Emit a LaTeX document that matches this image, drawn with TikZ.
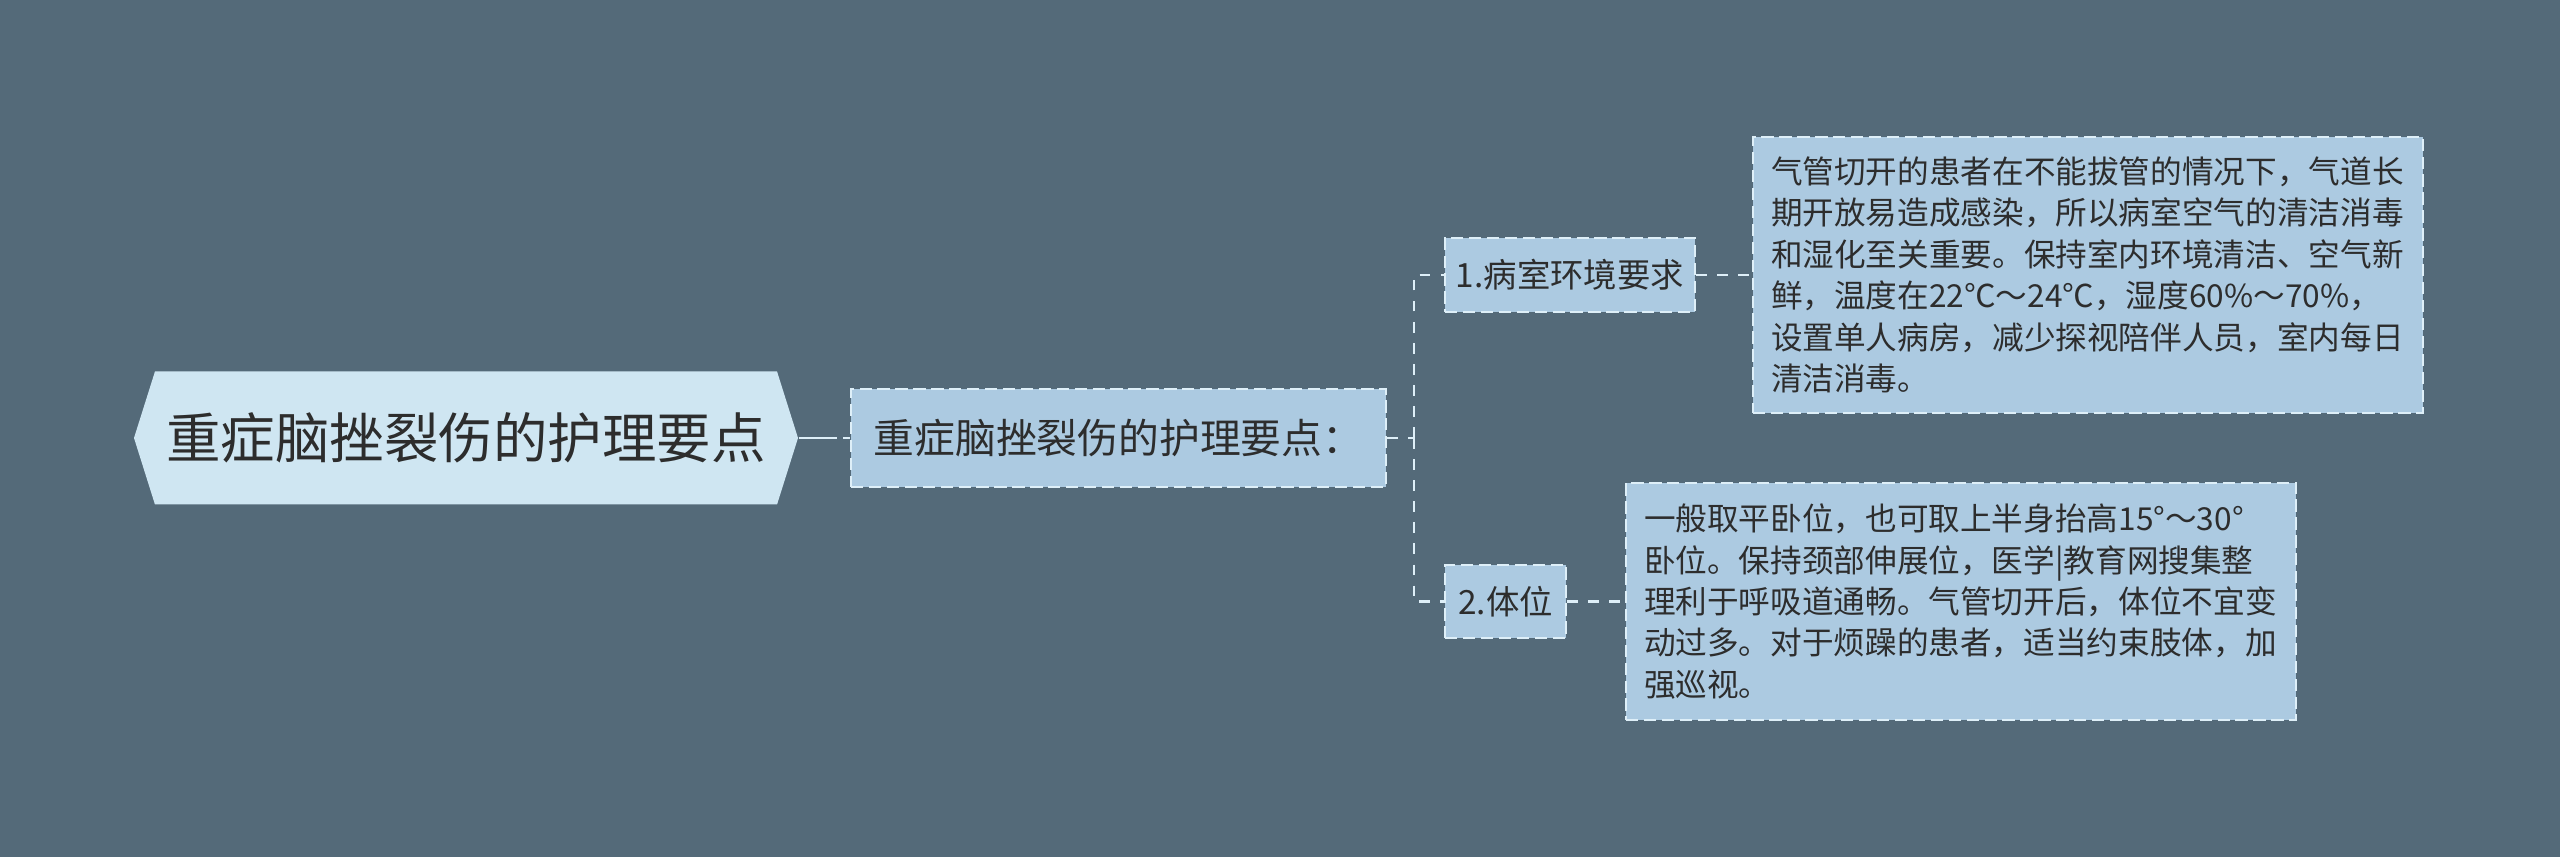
\documentclass[tikz,border=0pt]{standalone}
\usepackage{fontspec}
\setmainfont{Noto Sans CJK SC}
\usetikzlibrary{shapes.symbols}
\definecolor{slate}{RGB}{84,106,121}
\definecolor{rootfill}{RGB}{207,230,242}
\definecolor{leaffill}{RGB}{172,202,225}
\definecolor{edge}{RGB}{222,239,248}
\definecolor{ink}{RGB}{45,45,45}

\begin{document}
\begin{tikzpicture}[
    box/.style={draw=edge, fill=leaffill, line width=0.6pt, dash pattern=on 3.5pt off 1.6pt, text=ink, inner sep=0pt},
    link/.style={draw=edge, line width=0.7pt, dash pattern=on 3pt off 3pt}]
  \fill[slate] (0,0) rectangle (25.6,8.57);
  \useasboundingbox (0,0) rectangle (25.6,8.57);
  % root and main topic
  \node[signal, signal to=west and east, signal pointer angle=145, fill=rootfill, text=ink,
        minimum width=6.64cm, minimum height=1.33cm, inner sep=0pt,
        font=\fontsize{15.5}{18}\selectfont] (root) at (4.66,4.19) {重症脑挫裂伤的护理要点};
  \node[box, minimum width=5.35cm, minimum height=0.98cm, font=\fontsize{11.6}{13}\selectfont]
        (main) at (11.185,4.19) {重症脑挫裂伤的护理要点：};
  % branches
  \node[box, minimum width=2.50cm, minimum height=0.74cm, font=\fontsize{9.5}{11}\selectfont]
        (room) at (15.70,5.82) {1.病室环境要求};
  \node[box, minimum width=1.21cm, minimum height=0.73cm, font=\fontsize{9.5}{11}\selectfont]
        (pose) at (15.055,2.555) {2.体位};
  % leaves
  \node[box, minimum width=6.70cm, minimum height=2.76cm, text width=6.34cm, align=left,
        font=\fontsize{9}{11.8}\selectfont] (roomtxt) at (20.88,5.82)
        {气管切开的患者在不能拔管的情况下，气道长\\
         期开放易造成感染，所以病室空气的清洁消毒\\
         和湿化至关重要。保持室内环境清洁、空气新\\
         鲜，温度在22℃～24℃，湿度60\%～70\%，\\
         设置单人病房，减少探视陪伴人员，室内每日\\
         清洁消毒。};
  \node[box, minimum width=6.70cm, minimum height=2.37cm, text width=6.34cm, align=left,
        font=\fontsize{9}{11.8}\selectfont] (posetxt) at (19.61,2.555)
        {一般取平卧位，也可取上半身抬高15°～30°\\
         卧位。保持颈部伸展位，医学|教育网搜集整\\
         理利于呼吸道通畅。气管切开后，体位不宜变\\
         动过多。对于烦躁的患者，适当约束肢体，加\\
         强巡视。};
  % connectors
  \coordinate (fork) at (14.14,4.19);
  \draw[link, line width=0.75pt, dash pattern=on 10.8pt off 1.8pt] (root.east) -- (main.west);
  \draw[link] (main.east) -- (fork);
  \draw[link] (fork) |- (room.west);
  \draw[link] (fork) |- (pose.west);
  \draw[link] (room.east) -- (roomtxt.west);
  \draw[link] (pose.east) -- (posetxt.west);
\end{tikzpicture}
\end{document}
